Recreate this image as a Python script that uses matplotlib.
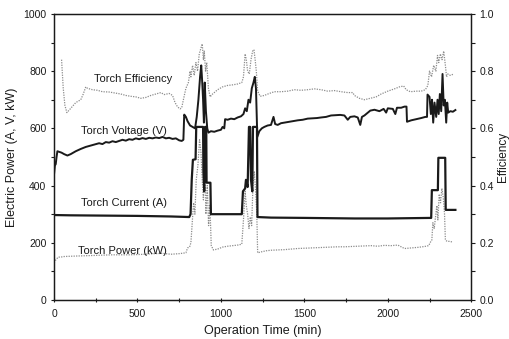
import matplotlib.pyplot as plt
from matplotlib.ticker import MultipleLocator

plt.rcParams['font.family'] = ['Liberation Sans', 'DejaVu Sans']

# torch voltage (V) vs operation time (min)
t_voltage = [0, 5, 10, 15, 20, 30, 45, 60, 80, 100, 130, 160, 190, 220, 250, 270, 290, 310,
             330, 350, 370, 390, 410, 430, 450, 470, 490, 510, 530, 550, 570, 590, 610, 630,
             650, 670, 690, 710, 730, 750, 765, 775, 780, 790, 800, 815, 830, 845, 855, 865,
             875, 882, 888, 893, 898, 903, 910, 918, 925, 940, 960, 980, 1000, 1010, 1020,
             1025, 1040, 1060, 1080, 1100, 1120, 1135, 1145, 1155, 1165, 1175, 1185, 1195,
             1203, 1210, 1218, 1230, 1245, 1260, 1280, 1300, 1315, 1325, 1340, 1360, 1380,
             1400, 1430, 1460, 1490, 1520, 1550, 1575, 1600, 1630, 1660, 1690, 1715, 1740,
             1760, 1775, 1800, 1820, 1835, 1845, 1860, 1880, 1895, 1920, 1950, 1975, 1990,
             2000, 2030, 2045, 2055, 2080, 2100, 2112, 2115, 2140, 2170, 2200, 2225, 2235,
             2238, 2250, 2258, 2265, 2272, 2280, 2290, 2298, 2305, 2312, 2320, 2328, 2335,
             2342, 2350, 2356, 2362, 2375, 2390, 2405]
voltage = [440, 470, 475, 500, 520, 518, 515, 510, 505, 510, 520, 528, 535, 540, 545, 548, 545,
           552, 550, 555, 552, 556, 560, 557, 562, 560, 565, 562, 566, 563, 567, 565, 568, 566,
           570, 565, 567, 563, 565, 558, 556, 560, 648, 640, 625, 610, 605, 600, 640, 700, 780,
           820, 760, 700, 620, 760, 660, 600, 585, 590, 588, 592, 595, 605, 600, 632, 630, 634,
           632, 638, 642, 650, 670, 660, 700, 690, 740, 760, 780, 740, 570, 590, 600, 605, 610,
           612, 640, 615, 612, 618, 620, 622, 625, 628, 630, 634, 635, 636, 638, 640, 645, 646,
           647, 645, 630, 640, 642, 638, 612, 640, 645, 655, 662, 665, 660, 668, 655, 670, 668,
           650, 672, 672, 676, 676, 623, 628, 632, 636, 640, 640, 718, 710, 650, 700, 620, 690,
           640, 700, 650, 720, 660, 790, 680, 700, 620, 690, 655, 660, 658, 664]

# torch current (A)
t_current = [0, 100, 300, 500, 700, 810, 818, 825, 832, 848, 852, 893, 895, 900, 905, 912, 914,
             937, 940, 1000, 1080, 1125, 1132, 1145, 1150, 1160, 1168, 1175, 1180, 1188, 1192,
             1216, 1219, 1300, 1500, 1800, 2000, 2260, 2264, 2300, 2303, 2344, 2347, 2405]
current = [297, 296, 295, 294, 292, 290, 300, 420, 490, 492, 605, 605, 450, 380, 605, 605, 410,
           410, 300, 300, 300, 300, 380, 390, 420, 395, 605, 605, 420, 380, 605, 605, 290, 288,
           287, 285, 285, 287, 384, 384, 497, 497, 315, 315]

# torch efficiency (-), right axis
t_eff = [45, 55, 65, 77, 100, 130, 160, 175, 190, 200, 230, 260, 290, 330, 360, 400, 430, 460,
         490, 520, 550, 580, 610, 640, 660, 690, 710, 725, 740, 755, 765, 775, 790, 805, 815,
         820, 830, 840, 850, 860, 870, 880, 888, 895, 900, 908, 915, 925, 935, 950, 980, 1010,
         1040, 1070, 1100, 1125, 1135, 1140, 1145, 1152, 1160, 1170, 1180, 1190, 1198, 1205,
         1212, 1220, 1235, 1260, 1290, 1320, 1360, 1400, 1440, 1480, 1520, 1560, 1600, 1640,
         1680, 1720, 1760, 1790, 1800, 1830, 1860, 1895, 1930, 1960, 2000, 2040, 2070, 2095,
         2110, 2135, 2170, 2200, 2225, 2240, 2250, 2262, 2275, 2288, 2298, 2305, 2315, 2325,
         2335, 2345, 2352, 2360, 2375, 2395]
efficiency = [0.84, 0.74, 0.68, 0.655, 0.67, 0.69, 0.70, 0.72, 0.745, 0.74, 0.735, 0.733, 0.728,
              0.727, 0.724, 0.72, 0.715, 0.712, 0.71, 0.705, 0.708, 0.715, 0.72, 0.725, 0.718,
              0.722, 0.715, 0.69, 0.675, 0.668, 0.672, 0.70, 0.74, 0.76, 0.80, 0.78, 0.82, 0.785,
              0.83, 0.80, 0.86, 0.88, 0.895, 0.84, 0.87, 0.80, 0.83, 0.74, 0.71, 0.72, 0.735,
              0.745, 0.75, 0.752, 0.755, 0.76, 0.78, 0.82, 0.86, 0.84, 0.80, 0.79, 0.84, 0.87,
              0.875, 0.84, 0.80, 0.73, 0.712, 0.715, 0.722, 0.728, 0.728, 0.73, 0.735, 0.733,
              0.735, 0.738, 0.735, 0.73, 0.732, 0.728, 0.725, 0.725, 0.715, 0.705, 0.70, 0.705,
              0.71, 0.72, 0.73, 0.738, 0.745, 0.748, 0.735, 0.728, 0.73, 0.73, 0.735, 0.75, 0.80,
              0.78, 0.82, 0.80, 0.855, 0.83, 0.86, 0.84, 0.87, 0.82, 0.78, 0.79, 0.785, 0.79]

# torch power (kW)
t_power = [0, 10, 25, 40, 60, 100, 150, 200, 250, 300, 350, 400, 450, 500, 550, 600, 650, 700,
           750, 790, 800, 812, 820, 828, 836, 844, 852, 862, 872, 880, 888, 895, 903, 910, 918,
           926, 934, 942, 955, 980, 1010, 1040, 1070, 1100, 1125, 1135, 1145, 1152, 1160, 1168,
           1176, 1184, 1192, 1200, 1208, 1215, 1220, 1240, 1270, 1300, 1340, 1380, 1420, 1460,
           1500, 1540, 1580, 1620, 1660, 1700, 1740, 1780, 1820, 1860, 1900, 1940, 1980, 2020,
           2060, 2080, 2100, 2140, 2180, 2220, 2245, 2258, 2264, 2270, 2278, 2286, 2294, 2300,
           2308, 2316, 2324, 2332, 2340, 2345, 2355, 2370, 2385]
power = [130, 140, 150, 150, 152, 153, 154, 155, 156, 157, 158, 158, 158, 159, 160, 162, 163,
         160, 162, 165, 182, 185, 200, 270, 340, 300, 420, 470, 560, 520, 420, 350, 480, 300,
         400, 260, 330, 190, 175, 178, 185, 188, 190, 192, 195, 280, 380, 330, 300, 250, 290,
         260, 400, 450, 380, 300, 165, 168, 172, 174, 175, 176, 178, 180, 181, 182, 183, 184,
         185, 186, 186, 187, 188, 189, 190, 188, 191, 190, 192, 186, 180, 182, 184, 187, 190,
         205, 210, 270, 250, 290, 330, 280, 370, 340, 390, 360, 300, 210, 205, 205, 203]

ink = '#1a1a1a'
grey = '0.55'

fig = plt.figure(figsize=(5.1, 3.39), dpi=100)
ax = fig.add_axes([0.106, 0.115, 0.818, 0.844])
ax2 = ax.twinx()

ax.plot(t_power, power, color=grey, lw=0.9, ls=(0, (1, 1)))
ax.plot(t_current, current, color=ink, lw=1.6)
ax.plot(t_voltage, voltage, color=ink, lw=1.4)
ax2.plot(t_eff, efficiency, color=grey, lw=0.9, ls=(0, (1, 1)))

ax.set_xlim(0, 2500)
ax.set_ylim(0, 1000)
ax2.set_ylim(0, 1.0)

ax.xaxis.set_major_locator(MultipleLocator(500))
ax.xaxis.set_minor_locator(MultipleLocator(250))
ax.yaxis.set_major_locator(MultipleLocator(200))
ax.yaxis.set_minor_locator(MultipleLocator(100))
ax2.yaxis.set_major_locator(MultipleLocator(0.2))
ax2.yaxis.set_minor_locator(MultipleLocator(0.1))
ax2.yaxis.set_major_formatter(lambda v, pos: f'{v:.1f}')

ax.tick_params(axis='x', which='both', direction='inout', length=3, width=0.8,
               labelsize=7.5, pad=5, colors=ink)
ax.tick_params(axis='y', which='both', direction='out', length=2.5, width=0.8,
               labelsize=7.5, pad=3, colors=ink)
ax2.tick_params(axis='y', which='both', direction='out', length=3, width=0.8,
                labelsize=7.5, pad=3, colors=ink)
for a in (ax, ax2):
    for s in a.spines.values():
        s.set_color(ink)
        s.set_linewidth(0.9)

ax.set_xlabel('Operation Time (min)', fontsize=9, color=ink, labelpad=4)
ax.set_ylabel('Electric Power (A, V, kW)', fontsize=9, color=ink, labelpad=4)
ax2.set_ylabel('Efficiency', fontsize=8.5, color=ink, labelpad=2)

# series labels written next to each curve
ax.text(474, 773, 'Torch Efficiency', fontsize=8, color=ink, ha='center', va='center')
ax.text(417, 590, 'Torch Voltage (V)', fontsize=8, color=ink, ha='center', va='center')
ax.text(420, 339, 'Torch Current (A)', fontsize=8, color=ink, ha='center', va='center')
ax.text(408, 172, 'Torch Power (kW)', fontsize=8, color=ink, ha='center', va='center')

fig.savefig('out.png', dpi=100)
